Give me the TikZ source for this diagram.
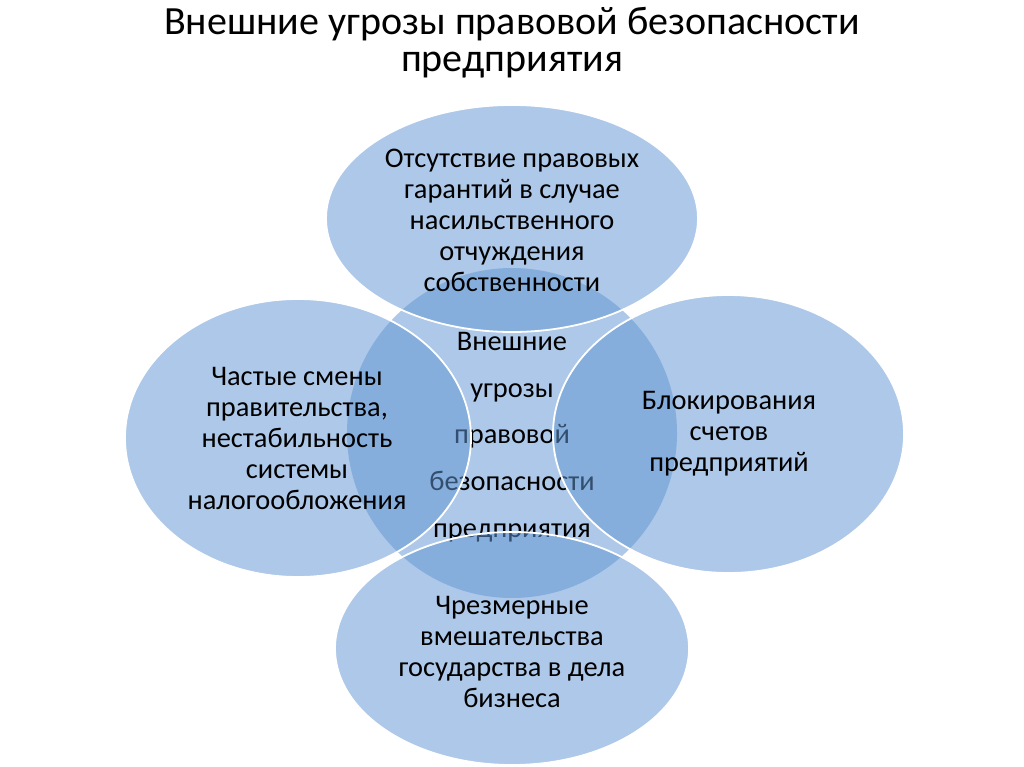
\documentclass[tikz,border=0pt]{standalone}
\usepackage{fontspec}
\setmainfont{Carlito}
\definecolor{blobc}{RGB}{99,151,211}
\tikzset{
  blob/.style={fill=blobc, fill opacity=0.52, draw=white, draw opacity=1, line width=1.8pt},
  disc/.style={fill=blobc, fill opacity=0.52},
  lab/.style={align=center, text=black, font=\fontsize{28.4}{31}\selectfont},
  midlab/.style={align=center, text=black, font=\fontsize{28.4}{46.75}\selectfont},
  ttl/.style={text=black, font=\fontsize{40}{48}\selectfont, anchor=base}
}
\begin{document}
\begin{tikzpicture}[x=1pt,y=-1pt]
\fill[white] (0,0) rectangle (1024,767);
\useasboundingbox (0,0) rectangle (1024,767);
% title
\node[ttl] (title1) at (512,35) {Внешние угрозы правовой безопасности};
\node[ttl] (title2) at (512,72) {предприятия};
% central circle and its text (under the ellipses)
\fill[disc] (512,433) circle [radius=165pt];
\node[midlab] (center) at (512,437) {Внешние\\угрозы\\правовой\\безопасности\\предприятия};
% ellipses
\path[blob] (512,218.5) ellipse [x radius=186pt, y radius=113.5pt];
\path[blob] (298,438) ellipse [x radius=173pt, y radius=139pt];
\path[blob] (728.5,434) ellipse [x radius=175.5pt, y radius=139pt];
\path[blob] (512,648.5) ellipse [x radius=177pt, y radius=116.5pt];
% ellipse texts
\node[lab] (top) at (512,220) {Отсутствие правовых\\гарантий в случае\\насильственного\\отчуждения\\собственности};
\node[lab] (left) at (297,438) {Частые смены\\правительства,\\нестабильность\\системы\\налогообложения};
\node[lab] (right) at (729,434) {Блокирования\\счетов\\предприятий};
\node[lab] (bottom) at (512,652) {Чрезмерные\\вмешательства\\государства в дела\\бизнеса};
\end{tikzpicture}
\end{document}
